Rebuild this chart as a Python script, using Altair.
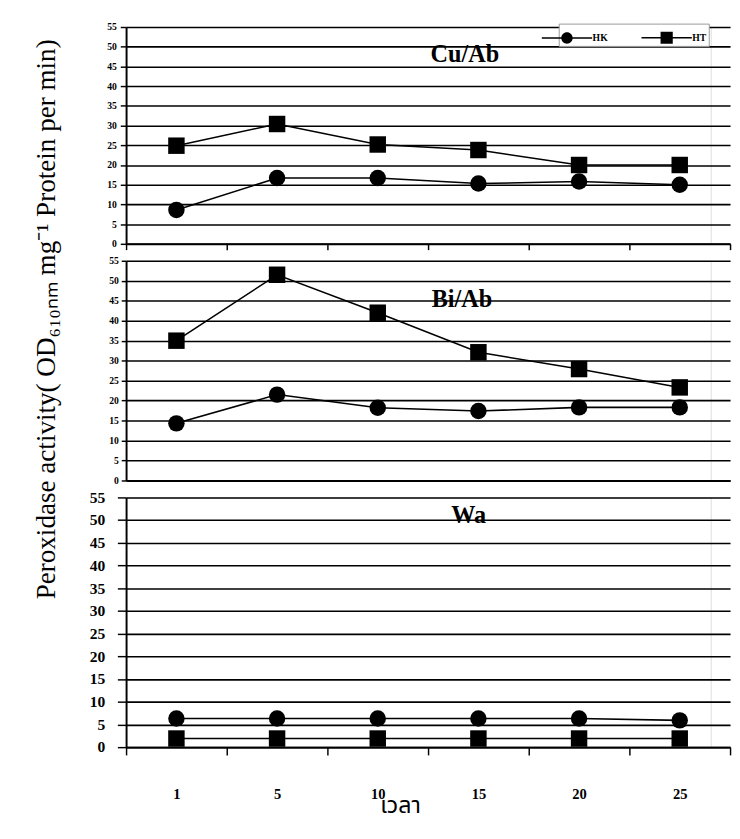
import altair as alt
import pandas as pd

# ---------------- data ----------------
times = ["1", "5", "10", "15", "20", "25"]
series = ["HK", "HT"]
panel_names = ["Cu/Ab", "Bi/Ab", "Wa"]

cu_hk = [8.6, 16.7, 16.7, 15.3, 15.8, 15.0]
cu_ht = [24.9, 30.4, 25.2, 23.8, 20.0, 20.0]
bi_hk = [14.3, 21.5, 18.2, 17.4, 18.3, 18.3]
bi_ht = [35.0, 51.5, 42.0, 32.1, 27.9, 23.3]
wa_hk = [6.3, 6.3, 6.3, 6.3, 6.3, 5.9]
wa_ht = [1.9, 1.9, 1.9, 1.9, 1.9, 1.9]

y_ticks = [0, 5, 10, 15, 20, 25, 30, 35, 40, 45, 50, 55]

y_title = "Peroxidase activity( OD\u2086\u2081\u2080\u2099\u2098 mg\u207b\u00b9 Protein per min)"
x_title = "เวลา"

SERIF = "Liberation Serif"
THAI = "Noto Sans Thai, Noto Serif Thai, Loma, Garuda, Norasi, Tlwg Typo, sans-serif"

# legend symbols: a short line through the marker (filled outlines)
hk_path = ("M-4,-0.13H4V0.13H-4Z"
           "M0.9,0A0.9,0.9,0,1,1,-0.9,0A0.9,0.9,0,1,1,0.9,0Z")
ht_path = "M-4,-0.13H4V0.13H-4ZM-0.97,-0.97H0.97V0.97H-0.97Z"

W = 604
X_RANGE = [0, 624]


def make_panel(name, hk, ht, height, ytick, ylab_size, ylab_pad, xaxis,
               tx, ty, legend=None, with_title=False):
    df = pd.DataFrame({
        "time": times + times,
        "series": [series[0]] * len(times) + [series[1]] * len(times),
        "value": hk + ht,
    })
    ykw = dict(values=y_ticks, grid=True, gridColor="black", gridWidth=1.6,
               gridOpacity=1, domainColor="black", domainWidth=2,
               tickColor="black", tickWidth=1.5, tickSize=ytick,
               labelFont=SERIF, labelFontWeight="bold", labelFontSize=ylab_size,
               labelColor="black", labelPadding=ylab_pad)
    if with_title:
        yaxis = alt.Axis(title=y_title, titleX=-68, titleY=60, titleFont=SERIF,
                         titleFontSize=28, titleFontWeight="normal",
                         titleColor="black", titleAngle=270,
                         titleBaseline="bottom", **ykw)
    else:
        yaxis = alt.Axis(title=None, **ykw)

    xenc = alt.X("time:N", sort=times, bandPosition=0.5,
                 scale=alt.Scale(type="band", range=X_RANGE,
                                 paddingInner=0, paddingOuter=0),
                 axis=xaxis)
    yenc = alt.Y("value:Q", scale=alt.Scale(domain=[0, 55], nice=False),
                 axis=yaxis)
    base = alt.Chart(df).encode(x=xenc, y=yenc)
    line = base.mark_line(color="black", strokeWidth=1.6).encode(
        detail="series:N")
    pts = base.mark_point(filled=True, size=289, opacity=1,
                          color="black").encode(
        shape=alt.Shape("series:N",
                        scale=alt.Scale(domain=series,
                                        range=["circle", "square"]),
                        legend=None))
    txt = alt.Chart(pd.DataFrame({"panel": [name]})).mark_text(
        font=SERIF, fontWeight="bold", fontSize=25, color="black",
        align="center", baseline="alphabetic").encode(
        text="panel:N", x=alt.value(tx), y=alt.value(ty))
    layers = [line, pts, txt]
    if legend is not None:
        key = base.transform_filter("false").mark_point(
            filled=True, opacity=1, color="black").encode(
            shape=alt.Shape("series:N",
                            scale=alt.Scale(domain=series,
                                            range=[hk_path, ht_path]),
                            legend=legend))
        layers.append(key)
    lay = alt.layer(*layers).properties(width=W, height=height)
    if legend is not None:
        lay = lay.resolve_scale(shape="independent").resolve_legend(
            shape="independent")
    return lay


top_legend = alt.Legend(
    orient="none", legendX=447, legendY=-3.5, direction="horizontal",
    title=" ", titleFontSize=5, titlePadding=1,
    fillColor="white", strokeColor="#999999", padding=2,
    labelFont=SERIF, labelFontWeight="bold", labelFontSize=10,
    labelColor="black", labelOffset=20, columnPadding=34,
    symbolSize=169, symbolStrokeWidth=0, symbolFillColor="black",
    symbolOpacity=1,
)

x_top = alt.Axis(labels=False, title=None, tickBand="extent", tickExtra=False,
                 ticks=True, tickSize=6, tickColor="black", tickWidth=1.5,
                 domainColor="black", domainWidth=2, grid=False)
x_mid = alt.Axis(labels=False, title=None, ticks=False,
                 domainColor="black", domainWidth=2, grid=False)
x_bot = alt.Axis(labelAngle=0, title=x_title, tickBand="extent",
                 tickExtra=False, ticks=True,
                 tickSize=8, tickColor="black", tickWidth=1.5,
                 domainColor="black", domainWidth=2, grid=False,
                 labelFont=SERIF, labelFontWeight="bold", labelFontSize=15,
                 labelColor="black", labelPadding=33,
                 titleFont=THAI, titleFontSize=24, titleFontWeight="normal",
                 titleColor="black", titleBaseline="alphabetic",
                 titleX=283, titleY=68)

p_top = make_panel(panel_names[0], cu_hk, cu_ht, 224, 6, 10, 4, x_top,
                   350, 36, legend=top_legend)
p_mid = make_panel(panel_names[1], bi_hk, bi_ht, 227, 5, 10, 3, x_mid,
                   347, 48, with_title=True)
p_bot = make_panel(panel_names[2], wa_hk, wa_ht, 258, 9, 16, 13, x_bot,
                   354, 26)

chart = alt.vconcat(p_top, p_mid, p_bot, spacing=17.5, bounds="flush").properties(
    padding={"left": 25, "top": 0, "right": 0, "bottom": 0}
).configure_view(stroke=None, strokeWidth=0, strokeOpacity=0).configure(
    background="white")

chart.save("out.html", embed_options={"renderer": "svg", "actions": False})
